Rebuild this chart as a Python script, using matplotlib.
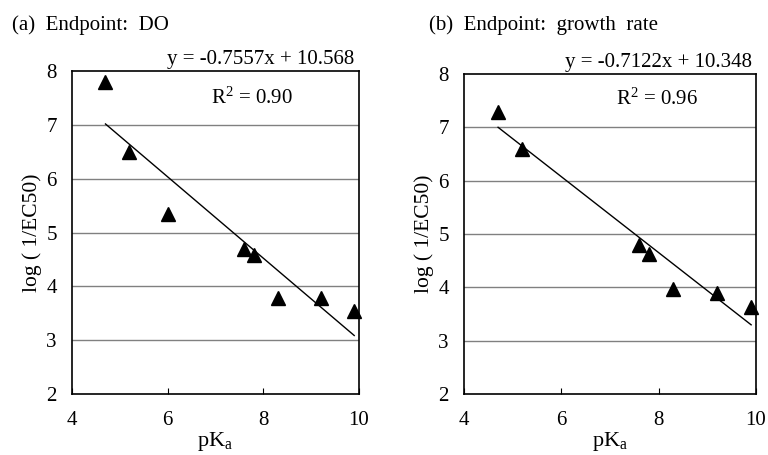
import numpy as np
import matplotlib
matplotlib.use("Agg")
from matplotlib import pyplot as plt

plt.rcParams['font.family'] = ['Liberation Serif', 'DejaVu Serif']
plt.rcParams['mathtext.fontset'] = 'custom'
plt.rcParams['mathtext.rm'] = 'Liberation Serif'
plt.rcParams['mathtext.it'] = 'Liberation Serif'

# panel (a): endpoint DO
pka_a = [4.7, 5.2, 6.0, 7.6, 7.8, 8.3, 9.2, 9.9]
logec_a = [7.8, 6.5, 5.35, 4.7, 4.58, 3.78, 3.78, 3.55]
slope_a, icpt_a, r2_a = -0.7557, 10.568, 0.90

# panel (b): endpoint growth rate
pka_b = [4.7, 5.2, 7.6, 7.8, 8.3, 9.2, 9.9]
logec_b = [7.28, 6.6, 4.8, 4.62, 3.97, 3.9, 3.63]
slope_b, icpt_b, r2_b = -0.7122, 10.348, 0.96

titles = ["(a)  Endpoint:  DO", "(b)  Endpoint:  growth  rate"]
xticks = [4, 6, 8, 10]
yticks = [2, 3, 4, 5, 6, 7, 8]


def draw_panel(ax, x, y, slope, icpt, r2, r2_pos):
    for yt in yticks[1:-1]:
        ax.axhline(yt, color="#808080", lw=1.0, zorder=1)
    xs = np.array([min(x), max(x)])
    ax.plot(xs, slope * xs + icpt, color="black", lw=1.0, zorder=2)
    ax.plot(x, y, linestyle="none", marker="^", color="black", markersize=10,
            clip_on=False, zorder=3)
    ax.set_xlim(4, 10)
    ax.set_ylim(2, 8)
    ax.set_xticks(xticks)
    ax.set_yticks(yticks)
    ax.tick_params(axis="x", direction="in", length=4, labelsize=15, pad=12)
    ax.tick_params(axis="y", length=0, labelsize=15, pad=11)
    for s in ax.spines.values():
        s.set_color("black")
        s.set_linewidth(1.2)
    ax.set_xlabel("pK$_\\mathrm{a}$", fontsize=16, labelpad=0)
    ax.set_ylabel("log ( 1/EC50)", fontsize=15.5, labelpad=3)
    ax.text(0.985, 1.005, "y = %.4fx + %.3f" % (slope, icpt), transform=ax.transAxes,
            ha="right", va="bottom", fontsize=15)
    ax.text(r2_pos[0], r2_pos[1], "R$^{2}$ = %.2f" % r2, transform=ax.transAxes,
            ha="center", va="center", fontsize=15)


def main():
    fig = plt.figure(figsize=(7.68, 4.55), dpi=100)
    ax1 = fig.add_axes([72 / 768, 1 - 394 / 455, 287 / 768, 323 / 455])
    ax2 = fig.add_axes([464 / 768, 1 - 394 / 455, 292 / 768, 320 / 455])
    draw_panel(ax1, pka_a, logec_a, slope_a, icpt_a, r2_a, (0.627, 0.915))
    draw_panel(ax2, pka_b, logec_b, slope_b, icpt_b, r2_b, (0.66, 0.92))
    fig.text(12 / 768, 1 - 25 / 455, titles[0], ha="left", va="center", fontsize=15)
    fig.text(429 / 768, 1 - 25 / 455, titles[1], ha="left", va="center", fontsize=15)
    fig.savefig("out.png", dpi=100)


if __name__ == "__main__":
    main()
